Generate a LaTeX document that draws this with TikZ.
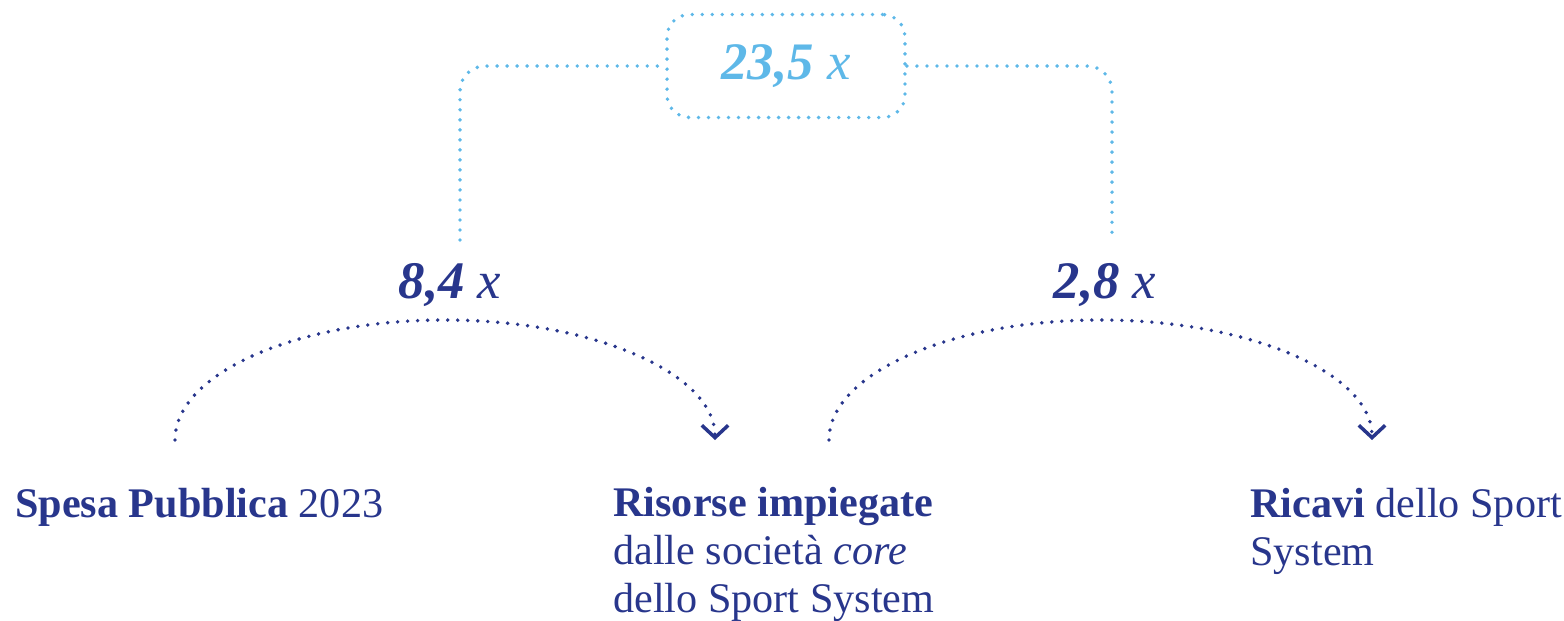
\documentclass[tikz,border=0pt]{standalone}
\usepackage{fontspec}
\setmainfont{Liberation Serif}
\usetikzlibrary{arrows.meta}
\definecolor{navy}{RGB}{40,54,140}
\definecolor{sky}{RGB}{94,184,232}

\begin{document}
\begin{tikzpicture}[x=.02cm,y=-.02cm,
		dots/.style={line width=2.2pt,line cap=round,dash pattern=on 0pt off 5.7pt},
		num/.style={font=\fontsize{30}{30}\selectfont,inner sep=0pt,anchor=base},
		lab/.style={font=\fontsize{24}{27.3}\selectfont,text=navy,inner sep=0pt,anchor=base west,align=left}]
		\useasboundingbox (0,0) rectangle (1564,620);
		\path
		(460,240) coordinate (L)
		(1112,240) coordinate (R)
		(175,440) coordinate (A1)
		(829,440) coordinate (A2);
		\node[num,anchor=center,text=sky,draw=sky,dots,rounded corners=.45cm,minimum width=4.76cm,minimum height=2.06cm] (T) at (786,66) {\textbf{\textit{23,5}} \textit{x}};
		\draw[dots,sky,rounded corners=.5cm] (L) |- (T.west) (T.east) -| (R);
		\node[num,text=navy] (M1) at (450,298) {\textbf{\textit{8,4}} \textit{x}};
		\node[num,text=navy] (M2) at (1105,298) {\textbf{\textit{2,8}} \textit{x}};
		\foreach \a/\r in {A1/270,A2/271.5} \draw[dots,navy,-{Straight Barb[length=7pt,width=15pt,line width=2pt]}] (\a) arc[start angle=180,end angle=360,x radius=\r,y radius=120];
		\node[lab] (P) at (15,517) {\textbf{Spesa Pubblica} 2023};
		\node[lab] (S) at (613,612) {\textbf{Risorse impiegate}\\dalle società \textit{core}\\dello Sport System};
		\node[lab] (C) at (1250,565) {\textbf{Ricavi} dello Sport\\System};
	\end{tikzpicture}
\end{document}
